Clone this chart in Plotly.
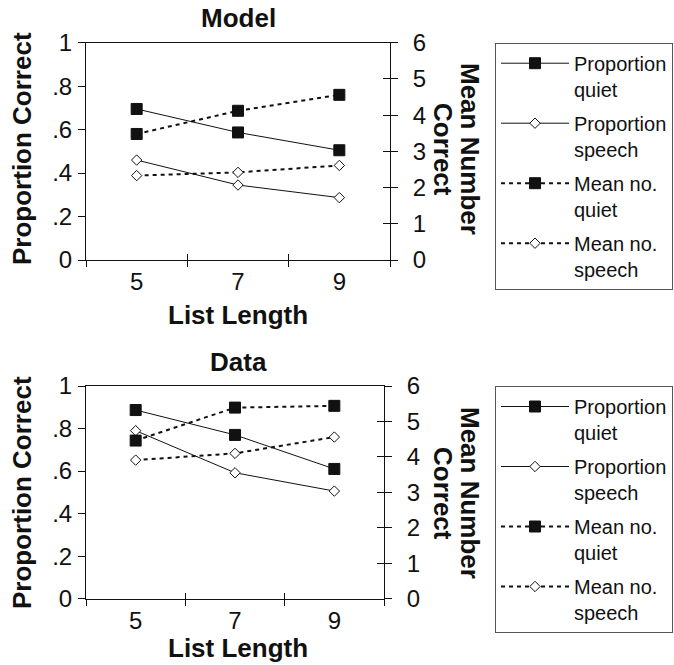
import plotly.graph_objects as go

list_length = [5, 7, 9]

model_prop_quiet = [0.695, 0.587, 0.505]
model_prop_speech = [0.460, 0.345, 0.287]
model_mean_quiet = [3.48, 4.12, 4.56]
model_mean_speech = [2.33, 2.42, 2.61]

data_prop_quiet = [0.887, 0.770, 0.610]
data_prop_speech = [0.790, 0.592, 0.506]
data_mean_quiet = [4.46, 5.39, 5.44]
data_mean_speech = [3.91, 4.10, 4.56]

series_names = ["Proportion<br>quiet", "Proportion<br>speech", "Mean no.<br>quiet", "Mean no.<br>speech"]
left_tickvals = [0, 0.2, 0.4, 0.6, 0.8, 1]
left_ticktext = ["0", ".2", ".4", ".6", ".8", "1"]
right_tickvals = [0, 1, 2, 3, 4, 5, 6]
x_label_vals = [5, 7, 9]
x_tick_vals = [4, 6, 8, 10]

FONT = "Liberation Sans, Arial, Helvetica, sans-serif"
INK = "#111111"

fig = go.Figure()

solid = dict(color=INK, width=1)
dashed = dict(color=INK, width=2, dash="4px,4px")
sq = dict(symbol="square", size=11, color=INK, line=dict(color=INK, width=1))
dia = dict(symbol="diamond", size=8, color="white", line=dict(color=INK, width=1))

def add_panel(xa, ya_left, ya_right, legend, prefix, pq, ps, mq, ms):
    specs = [
        (pq, ya_left, solid, sq, series_names[0]),
        (ps, ya_left, solid, dia, series_names[1]),
        (mq, ya_right, dashed, sq, series_names[2]),
        (ms, ya_right, dashed, dia, series_names[3]),
    ]
    for i, (vals, ya, line, marker, name) in enumerate(specs):
        fig.add_trace(go.Scatter(
            x=list_length, y=vals, xaxis=xa, yaxis=ya, mode="lines+markers",
            line=line, marker=marker, name=name, legend=legend,
            legendgroup="%s%d" % (prefix, i),
        ))

add_panel("x", "y", "y2", "legend", "m", model_prop_quiet, model_prop_speech, model_mean_quiet, model_mean_speech)
add_panel("x2", "y4", "y5", "legend2", "d", data_prop_quiet, data_prop_speech, data_mean_quiet, data_mean_speech)

W, H = 674, 665
top_dom_x = [86 / W, 390 / W]
top_dom_y = [1 - 260 / H, 1 - 42.7 / H]
bot_dom_x = [86 / W, 384 / W]
bot_dom_y = [1 - 598.7 / H, 1 - 386 / H]

tickfont = dict(family=FONT, size=24, color=INK)

def x_main(domain, anchor):
    return dict(domain=domain, anchor=anchor, range=[4, 10], tickmode="array",
                tickvals=x_label_vals, ticks="", showgrid=False, zeroline=False,
                showline=True, linecolor=INK, linewidth=1, mirror=True,
                tickfont=tickfont, ticklabelstandoff=0, automargin=False)

def x_ticks(over, anchor, side):
    return dict(overlaying=over, anchor=anchor, range=[4, 10], tickmode="array",
                tickvals=x_tick_vals, ticks=side, ticklen=6, tickcolor=INK, tickwidth=1,
                showticklabels=False, showgrid=False, zeroline=False, showline=False,
                automargin=False)

def y_left(domain, anchor):
    return dict(domain=domain, anchor=anchor, range=[0, 1], tickmode="array",
                tickvals=left_tickvals, ticktext=left_ticktext, ticks="outside", ticklen=7,
                tickcolor=INK, tickwidth=1, showgrid=False, zeroline=False,
                showline=True, linecolor=INK, linewidth=1, tickfont=tickfont,
                ticklabelstandoff=1, automargin=False)

def y_right(over, anchor, side, labels):
    return dict(overlaying=over, anchor=anchor, side="right", range=[0, 6], tickmode="array",
                tickvals=right_tickvals, ticks=side, ticklen=7, tickcolor=INK, tickwidth=1,
                showticklabels=labels, showgrid=False, zeroline=False,
                showline=True, linecolor=INK, linewidth=1, tickfont=tickfont,
                ticklabelstandoff=10, automargin=False)

legend_common = dict(
    xanchor="left", yanchor="top", bgcolor="white", bordercolor="#555555", borderwidth=1,
    font=dict(family=FONT, size=20, color=INK), valign="top", traceorder="grouped",
    tracegroupgap=5, itemclick=False, itemdoubleclick=False, itemwidth=68,
)

fig.update_layout(
    template="none",
    width=W, height=H, autosize=False,
    margin=dict(l=0, r=0, t=0, b=0, pad=0),
    paper_bgcolor="white", plot_bgcolor="white",
    font=dict(family=FONT, color=INK),
    showlegend=True,
    xaxis=x_main(top_dom_x, "y"),
    xaxis3=x_ticks("x", "y", "outside"),
    xaxis4=x_ticks("x", "y", "inside"),
    yaxis=y_left(top_dom_y, "x"),
    yaxis2=y_right("y", "x", "outside", True),
    yaxis3=y_right("y", "x", "inside", False),
    xaxis2=x_main(bot_dom_x, "y4"),
    xaxis5=x_ticks("x2", "y4", "outside"),
    xaxis6=x_ticks("x2", "y4", "inside"),
    yaxis4=y_left(bot_dom_y, "x2"),
    yaxis5=y_right("y4", "x2", "outside", True),
    yaxis6=y_right("y4", "x2", "inside", False),
    legend=dict(x=495 / W, y=1 - 42.7 / H, **legend_common),
    legend2=dict(x=495 / W, y=1 - 386 / H, **legend_common),
)

# invisible traces to activate overlay tick axes
for xa, ya in [("x3", "y"), ("x4", "y"), ("x", "y3"), ("x5", "y4"), ("x6", "y4"), ("x2", "y6")]:
    fig.add_trace(go.Scatter(x=[None], y=[None], xaxis=xa, yaxis=ya, showlegend=False,
                             hoverinfo="skip", mode="markers"))

title_font = dict(family=FONT, size=26, color=INK)
ann = []
for title, ty, xly, cy in [("Model", 18, 315, 149), ("Data", 362, 648, 493)]:
    ann.append(dict(text="<b>%s</b>" % title, x=238 / W, y=1 - ty / H, xref="paper", yref="paper",
                    xanchor="center", yanchor="middle", showarrow=False, font=title_font))
    ann.append(dict(text="<b>List Length</b>", x=238 / W, y=1 - xly / H, xref="paper", yref="paper",
                    xanchor="center", yanchor="middle", showarrow=False, font=title_font))
    ann.append(dict(text="<b>Proportion Correct</b>", x=22 / W, y=1 - cy / H, xref="paper", yref="paper",
                    xanchor="center", yanchor="middle", showarrow=False, textangle=-90, font=title_font))
    ann.append(dict(text="<b>Mean Number</b>", x=470 / W, y=1 - cy / H, xref="paper", yref="paper",
                    xanchor="center", yanchor="middle", showarrow=False, textangle=90, font=title_font))
    ann.append(dict(text="<b>Correct</b>", x=443 / W, y=1 - cy / H, xref="paper", yref="paper",
                    xanchor="center", yanchor="middle", showarrow=False, textangle=90, font=title_font))
fig.update_layout(annotations=ann)

fig.write_html("out.html")
